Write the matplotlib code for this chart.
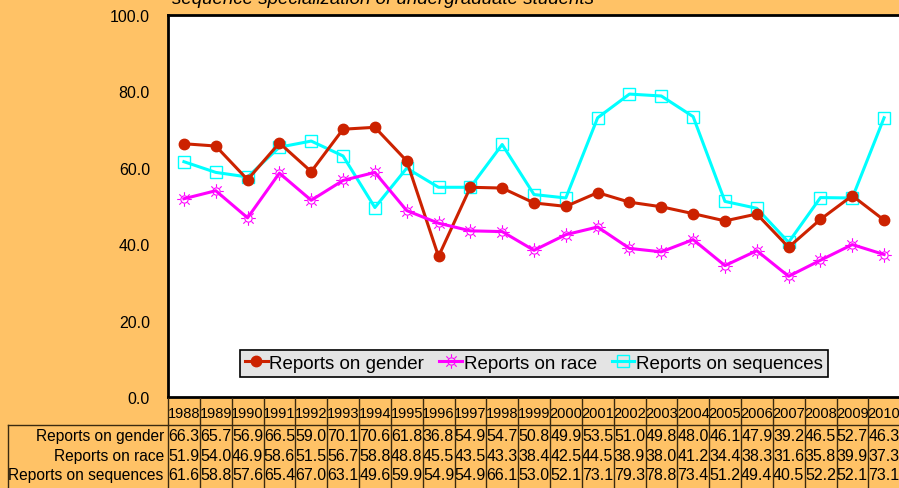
import matplotlib
matplotlib.use("Agg")
import numpy as np
import matplotlib.pyplot as plt
from matplotlib.lines import Line2D
from matplotlib.path import Path

plt.rcParams['font.family'] = ['Liberation Sans', 'DejaVu Sans']

years = list(range(1988, 2011))
gender = [66.3, 65.7, 56.9, 66.5, 59.0, 70.1, 70.6, 61.8, 36.8, 54.9, 54.7, 50.8,
          49.9, 53.5, 51.0, 49.8, 48.0, 46.1, 47.9, 39.2, 46.5, 52.7, 46.3]
race = [51.9, 54.0, 46.9, 58.6, 51.5, 56.7, 58.8, 48.8, 45.5, 43.5, 43.3, 38.4,
        42.5, 44.5, 38.9, 38.0, 41.2, 34.4, 38.3, 31.6, 35.8, 39.9, 37.3]
sequences = [61.6, 58.8, 57.6, 65.4, 67.0, 63.1, 49.6, 59.9, 54.9, 54.9, 66.1, 53.0,
             52.1, 73.1, 79.3, 78.8, 73.4, 51.2, 49.4, 40.5, 52.2, 52.1, 73.1]
series_names = ['Reports on gender', 'Reports on race', 'Reports on sequences']
yticks = [0, 20, 40, 60, 80, 100]


def sun_marker():
    # circle with short rays, like the Excel "sun" marker
    circ = Path.circle((0, 0), 0.5)
    verts = list(circ.vertices)
    codes = list(circ.codes)
    for a in np.linspace(0, 2 * np.pi, 8, endpoint=False):
        verts += [(0.6 * np.cos(a), 0.6 * np.sin(a)), (1.0 * np.cos(a), 1.0 * np.sin(a))]
        codes += [Path.MOVETO, Path.LINETO]
    return Path(verts, codes)


bg = '#FFC266'
W, H = 899, 489
fig = plt.figure(figsize=(W / 100, H / 100), dpi=100, facecolor=bg)
ax = fig.add_axes([168 / W, (H - 398) / H, (900 - 168) / W, (398 - 16) / H])
ax.set_facecolor('white')

x = list(range(len(years)))
ax.plot(x, gender, color='#CC2200', lw=2.2, marker='o', ms=7.5, mec='#CC2200',
        label=series_names[0], zorder=3)
ax.plot(x, race, color='#FF00FF', lw=2.2, marker=sun_marker(), ms=10.5, mew=0.8,
        mfc='none', label=series_names[1], zorder=3)
ax.plot(x, sequences, color='#00FFFF', lw=2.2, marker='s', ms=9, mfc='none',
        mew=1, label=series_names[2], zorder=2)

ax.set_xlim(-0.5, len(years) - 0.5)
ax.set_ylim(0, 100)
ax.set_yticks(yticks)
ax.set_yticklabels(['%.1f' % v for v in yticks], fontsize=11.5)
ax.tick_params(axis='y', length=0, pad=13)
ax.set_xticks([])
for s in ['left', 'top', 'bottom']:
    ax.spines[s].set_linewidth(2)
ax.spines['right'].set_visible(False)

leg = ax.legend(loc='center', bbox_to_anchor=(0.5, 0.088), ncol=3, fontsize=13.5,
                frameon=True, fancybox=False, edgecolor='black',
                facecolor='#E4E4E4', framealpha=1, handlelength=1.2,
                handletextpad=0.1, columnspacing=0.8, borderpad=0.25,
                borderaxespad=0)
leg.get_frame().set_linewidth(1.2)

# data table below the plot
def fy(py):
    return (398 - py) / 382

tr = ax.get_xaxis_transform()
for i, yr in enumerate(years):
    ax.text(i, fy(414), str(yr), transform=tr, ha='center', va='center',
            fontsize=10.5, clip_on=False)
rows = [gender, race, sequences]
row_y = [437, 456.5, 476]
for vals, name, py in zip(rows, series_names, row_y):
    ax.text(-0.5, fy(py), name + ' ', transform=tr, ha='right', va='center',
            fontsize=11.2, clip_on=False)
    for i, v in enumerate(vals):
        ax.text(i, fy(py), '%.1f' % v, transform=tr, ha='center', va='center',
                fontsize=11.5, clip_on=False)

lc = '#3A2A10'
for k in range(len(years) + 1):
    fig.add_artist(Line2D([(168 + k * 31.84) / W] * 2, [(H - 399) / H, 0],
                          color=lc, lw=1))
fig.add_artist(Line2D([8 / W, 1], [(H - 426) / H] * 2, color=lc, lw=1))
fig.add_artist(Line2D([8 / W] * 2, [(H - 426) / H, 0], color=lc, lw=1))

fig.text(383 / W, 1 - 4 / H, 'sequence specialization of undergraduate students',
         ha='center', va='baseline', fontsize=13.5, style='italic')

fig.savefig('out.png', dpi=100, facecolor=bg)
